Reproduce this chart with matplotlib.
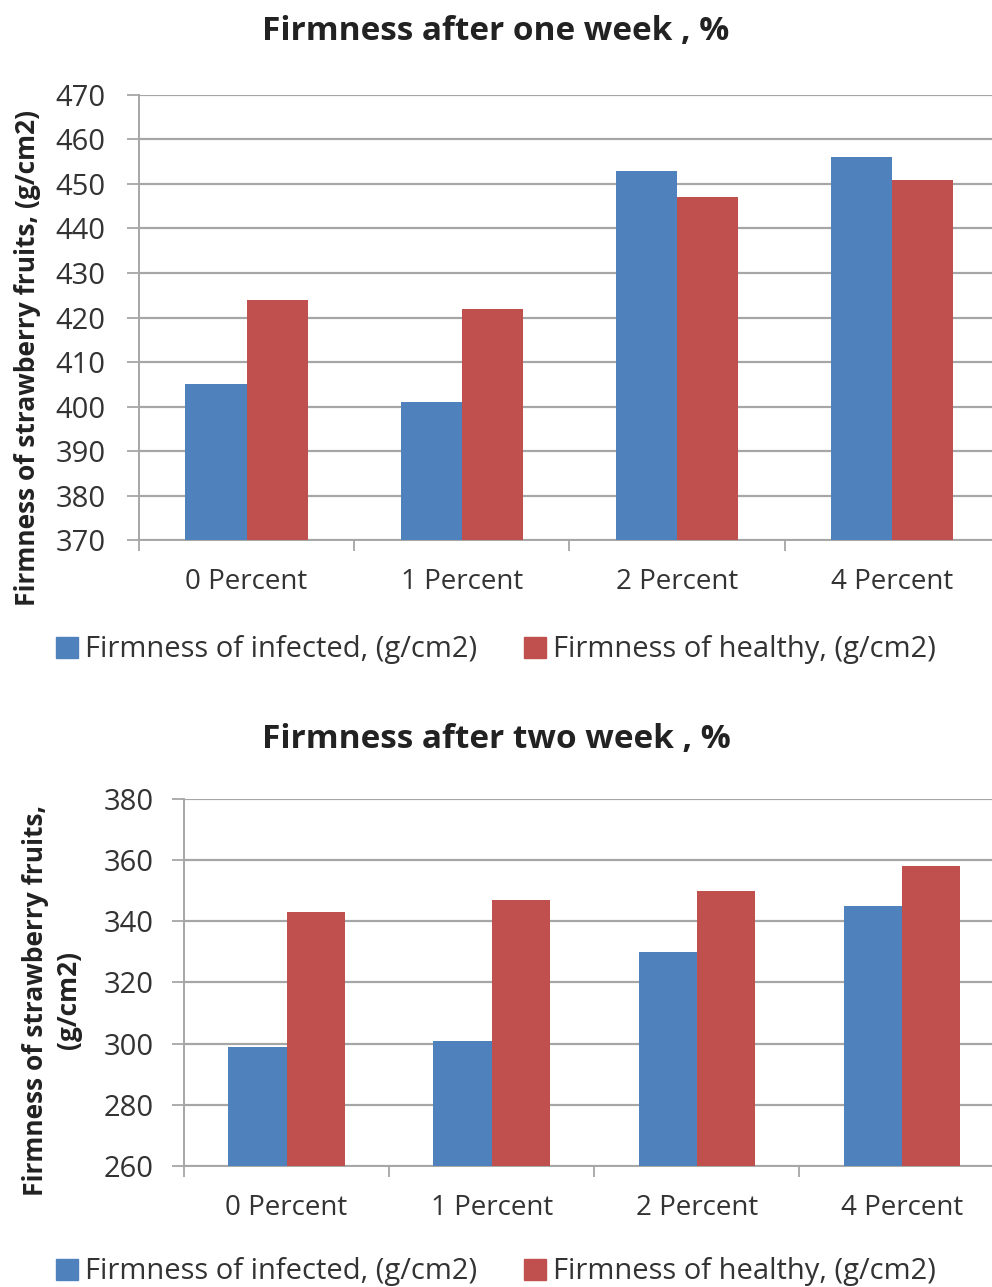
import numpy as np
import matplotlib.pyplot as plt
from matplotlib.patches import Patch

plt.rcParams['font.family'] = ['Open Sans', 'DejaVu Sans']

categories = ['0 Percent', '1 Percent', '2 Percent', '4 Percent']
series_names = ['Firmness of infected, (g/cm2)', 'Firmness of healthy, (g/cm2)']

week1_infected = [405, 401, 453, 456]
week1_healthy = [424, 422, 447, 451]
week2_infected = [299, 301, 330, 345]
week2_healthy = [343, 347, 350, 358]

blue = '#4F81BD'
red = '#C0504D'
grid_col = '#A6A6A6'

fig = plt.figure(figsize=(9.92, 12.87), dpi=100)


def draw_panel(rect, infected, healthy, ylim, ystep, title, ylabel, title_y, leg_y,
               ylabel_x, ylabel_y, ypad):
    ax = fig.add_axes(rect)
    x = np.arange(len(categories))
    w = 0.284
    ax.bar(x - w / 2, infected, w, color=blue, zorder=3)
    ax.bar(x + w / 2, healthy, w, color=red, zorder=3)
    ax.set_xlim(-0.5, len(categories) - 0.5)
    ax.set_ylim(*ylim)
    ax.set_yticks(np.arange(ylim[0], ylim[1] + 1, ystep))
    ax.yaxis.grid(True, color=grid_col, lw=1.6, zorder=0)
    ax.set_axisbelow(True)
    ax.set_xticks(np.arange(-0.5, len(categories), 1.0))
    ax.set_xticklabels([])
    ax.set_xticks(x, minor=True)
    ax.set_xticklabels(categories, minor=True, fontsize=20, color='#333333')
    ax.tick_params(axis='x', which='minor', length=0, pad=20)
    ax.tick_params(axis='x', which='major', length=8, width=1.3, color=grid_col)
    ax.tick_params(axis='y', length=9, width=1.3, color=grid_col, labelsize=21,
                   labelcolor='#333333', pad=ypad)
    for s in ['top', 'right']:
        ax.spines[s].set_visible(False)
    for s in ['left', 'bottom']:
        ax.spines[s].set_color(grid_col)
        ax.spines[s].set_linewidth(1.4)
    fig.text(0.5, title_y, title, ha='center', va='center', fontsize=24,
             fontweight='bold', color='#222222')
    fig.text(ylabel_x, ylabel_y, ylabel, rotation=90, ha='center',
             va='center', fontsize=19, fontweight='bold', color='#222222',
             multialignment='center', linespacing=1.3)
    handles = [Patch(color=blue), Patch(color=red)]
    fig.legend(handles, series_names, loc='center', bbox_to_anchor=(0.5, leg_y),
               ncol=2, frameon=False, fontsize=21, handlelength=0.75, handleheight=0.75,
               handletextpad=0.25, columnspacing=1.6, labelcolor='#333333')
    return ax


draw_panel([0.140, 0.5804, 0.868, 0.3458], week1_infected, week1_healthy, (370, 470), 10,
           'Firmness after one week , %', 'Firmness of strawberry fruits, (g/cm2)',
           1 - 32 / 1287, 1 - 650 / 1287, 28 / 992, 1 - 358 / 1287, 15)
draw_panel([0.1855, 0.0940, 0.827, 0.2852], week2_infected, week2_healthy, (260, 380), 20,
           'Firmness after two week , %', 'Firmness of strawberry fruits,\n(g/cm2)',
           1 - 740 / 1287, 1 - 1272 / 1287, 52 / 992, 1 - 1000 / 1287, 13)

fig.savefig('out.png', dpi=100)
